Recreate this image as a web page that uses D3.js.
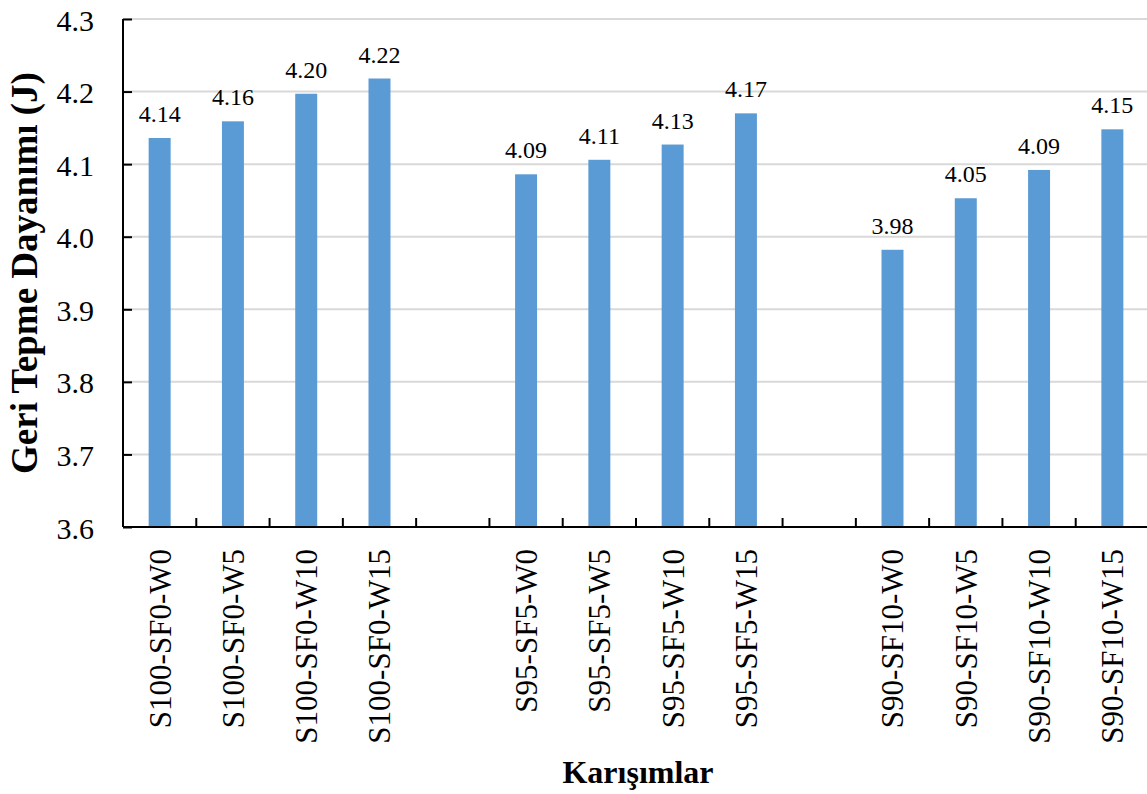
<!DOCTYPE html>
<html>
<head>
<meta charset="utf-8">
<script src="https://cdn.jsdelivr.net/npm/d3@7"></script>
<style>
  html, body { margin: 0; padding: 0; background: #ffffff; }
  svg { display: block; }
  svg text { font-family: "Liberation Serif", "Times New Roman", Times, "DejaVu Serif", serif; }
</style>
</head>
<body>
<svg id="chart" width="1147" height="794"></svg>
<script>
// Mix designations, in plotting order (three groups of four)
const categories = [
  "S100-SF0-W0", "S100-SF0-W5", "S100-SF0-W10", "S100-SF0-W15",
  "S95-SF5-W0", "S95-SF5-W5", "S95-SF5-W10", "S95-SF5-W15",
  "S90-SF10-W0", "S90-SF10-W5", "S90-SF10-W10", "S90-SF10-W15"
];
// Rebound resistance (J) for each mix
const values = [
  4.136, 4.159, 4.197, 4.218,
  4.086, 4.106, 4.127, 4.170,
  3.982, 4.053, 4.092, 4.148
];
// Value-axis ticks
const yTicks = [3.6, 3.7, 3.8, 3.9, 4.0, 4.1, 4.2, 4.3];
const groupSize = 4;

// Category slots with an empty slot between the groups
const slots = [];
categories.forEach((c, i) => {
  if (i > 0 && i % groupSize === 0) slots.push("__gap" + i);
  slots.push(c);
});

const svg = d3.select("#chart");
const plot = { left: 123, right: 1149, top: 19, bottom: 527 };

const x = d3.scaleBand().domain(slots).range([plot.left, plot.right]).padding(0);
const y = d3.scaleLinear().domain([3.6, 4.3]).range([plot.bottom, plot.top]);

const barColor = "#5b9bd5";

// Horizontal gridlines
svg.append("g")
  .selectAll("line")
  .data(yTicks.filter(t => t > 3.6))
  .join("line")
  .attr("x1", plot.left).attr("x2", plot.right)
  .attr("y1", d => y(d)).attr("y2", d => y(d))
  .attr("stroke", "#d9d9d9").attr("stroke-width", 2);

// Bars
const barW = x.step() * 0.3;
svg.append("g")
  .selectAll("rect")
  .data(categories.map((c, i) => ({ c, v: values[i] })))
  .join("rect")
  .attr("x", d => x(d.c) + x.bandwidth() / 2 - barW / 2)
  .attr("y", d => y(d.v))
  .attr("width", barW)
  .attr("height", d => y(3.6) - y(d.v))
  .attr("fill", barColor);

// Value labels
const fmt = d3.format(".2f");
svg.append("g")
  .selectAll("text")
  .data(categories.map((c, i) => ({ c, v: values[i] })))
  .join("text")
  .attr("x", d => x(d.c) + x.bandwidth() / 2)
  .attr("y", d => y(d.v) - 16)
  .attr("text-anchor", "middle")
  .style("font-size", "24px")
  .attr("fill", "#000")
  .text(d => fmt(d.v));

// Y axis
const yAxis = d3.axisLeft(y).tickValues(yTicks).tickFormat(d3.format(".1f")).tickSize(-9).tickPadding(29);
const gy = svg.append("g").attr("transform", `translate(${plot.left},0)`).call(yAxis);
gy.attr("font-family", null).attr("font-size", null);
gy.select(".domain").attr("stroke", "#000").attr("stroke-width", 2).attr("d", `M0,${plot.top}V${plot.bottom}`);
gy.selectAll(".tick line").attr("stroke", "#000").attr("stroke-width", 2);
gy.selectAll(".tick text")
  .style("font-size", "30px").attr("fill", "#000")
  .attr("dy", "0.37em");

// X axis: labels at slot centres, tick marks at slot boundaries
const xAxis = d3.axisBottom(x).tickSize(0).tickPadding(0)
  .tickFormat(d => d.startsWith("__gap") ? "" : d);
const gx = svg.append("g").attr("transform", `translate(0,${plot.bottom})`).call(xAxis);
gx.attr("font-family", null).attr("font-size", null);
gx.select(".domain").attr("stroke", "#000").attr("stroke-width", 2).attr("d", `M${plot.left},0H${plot.right}`);
gx.selectAll(".tick text")
  .style("font-size", "31px").attr("fill", "#000")
  .attr("text-anchor", "end")
  .attr("transform", "translate(0,22) rotate(-90)")
  .attr("x", 0).attr("y", 0)
  .attr("dy", "0.35em");

const boundaries = slots.map(s => x(s)).slice(1).concat([plot.right]);
svg.append("g")
  .selectAll("line")
  .data(boundaries)
  .join("line")
  .attr("x1", d => d).attr("x2", d => d)
  .attr("y1", plot.bottom).attr("y2", plot.bottom - 9)
  .attr("stroke", "#000").attr("stroke-width", 2);

// Axis titles
svg.append("text")
  .attr("transform", `translate(24,273) rotate(-90)`)
  .attr("text-anchor", "middle")
  .attr("dy", "0.35em")
  .style("font-weight", "bold").style("font-size", "37px")
  .attr("fill", "#000")
  .text("Geri Tepme Dayanımı (J)");

svg.append("text")
  .attr("x", 638).attr("y", 783)
  .attr("text-anchor", "middle")
  .style("font-weight", "bold").style("font-size", "32px")
  .attr("fill", "#000")
  .text("Karışımlar");
</script>
</body>
</html>
